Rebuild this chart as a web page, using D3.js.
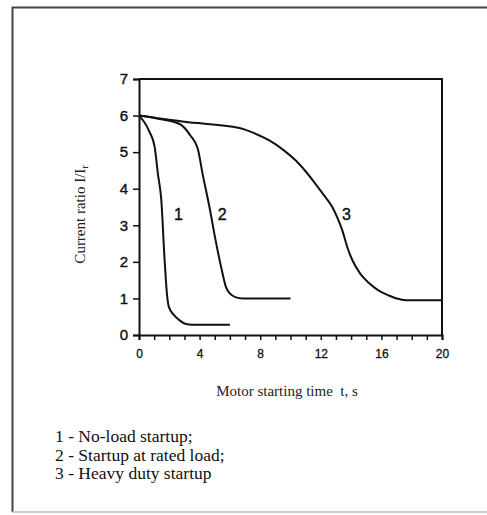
<!DOCTYPE html>
<html><head><meta charset="utf-8">
<script src="https://cdn.jsdelivr.net/npm/d3@7"></script>
<style>body{margin:0;background:#fff}svg{display:block}</style>
</head><body>
<script>
// Data
const curve1 = [[0,6],[0.3,5.85],[0.7,5.55],[1.03,5.15],[1.25,4.4],[1.47,3.7],[1.69,2.05],[1.85,1.1],[1.97,0.77],[2.3,0.55],[2.68,0.4],[3.1,0.3],[3.5,0.28],[6,0.28]];
const curve2 = [[0,6],[1.2,5.92],[2.68,5.77],[3.4,5.45],[3.88,5.09],[4.2,4.4],[4.65,3.5],[5.05,2.6],[5.42,1.86],[5.75,1.3],[5.96,1.15],[6.4,1.03],[6.84,1.0],[8,1.0],[10,1.0]];
const curve3 = [[0,6],[3,5.83],[6.62,5.66],[7.6,5.52],[8.6,5.32],[9.5,5.07],[10.35,4.77],[11.05,4.45],[11.67,4.12],[12.25,3.8],[12.76,3.5],[13.1,3.2],[13.42,2.86],[13.75,2.4],[14.08,2.05],[14.6,1.68],[15.18,1.42],[15.8,1.22],[16.49,1.08],[17.0,1.0],[17.59,0.95],[19.95,0.95]];
const curves = [curve1, curve2, curve3];
const curveLabels = ["1","2","3"];
const curveLabelPos = [[2.6,3.3],[5.5,3.3],[13.7,3.3]];
const xTicks = [0,4,8,12,16,20];
const xMinorTicks = d3.range(0,21,1);
const yTicks = [0,1,2,3,4,5,6,7];
const legendLines = ["1 - No-load startup;","2 - Startup at rated load;","3 - Heavy duty startup"];

const W=487,H=515;
const svg=d3.select("body").append("svg").attr("width",W).attr("height",H);
const sans="Liberation Sans, Arial, sans-serif", serif="Liberation Serif, Times New Roman, serif";
// outer frame
svg.append("path").attr("d","M500,7.5 H12.5 V512").attr("fill","none").attr("stroke","#444").attr("stroke-width",2);
svg.append("line").attr("x1",12).attr("x2",487).attr("y1",512).attr("y2",512).attr("stroke","#bbb").attr("stroke-width",1.5);

const x=d3.scaleLinear().domain([0,20]).range([139,442]);
const y=d3.scaleLinear().domain([0,7]).range([335,79]);

// plot frame (top and right)
svg.append("path").attr("d",`M${x(0)},${y(7)} H${x(20)} V${y(0)}`).attr("fill","none").attr("stroke","#111").attr("stroke-width",2);

// x axis
const xa=svg.append("g").attr("transform",`translate(0,${y(0)})`);
xa.call(d3.axisBottom(x).tickValues(xMinorTicks).tickSize(5).tickFormat(""));
xa.select(".domain").attr("stroke-width",2).attr("stroke","#111");
xa.selectAll(".tick line").attr("stroke-width",1.5).attr("stroke","#111");
const xl=svg.append("g").attr("transform",`translate(0,${y(0)})`);
xl.call(d3.axisBottom(x).tickValues(xTicks).tickSize(0).tickPadding(14).tickFormat(d3.format("d")));
xl.select(".domain").remove();
xl.selectAll("text").attr("font-family",sans).attr("font-size",12).attr("fill","#111").attr("stroke","#111").attr("stroke-width",0.3);

// y axis
const ya=svg.append("g").attr("transform",`translate(${x(0)},0)`);
ya.call(d3.axisLeft(y).tickValues(yTicks).tickSize(6).tickPadding(5).tickFormat(d3.format("d")));
ya.select(".domain").attr("stroke-width",2).attr("stroke","#111");
ya.selectAll(".tick line").attr("stroke-width",1.5).attr("stroke","#111");
ya.selectAll("text").attr("font-family",sans).attr("font-size",15).attr("fill","#111").attr("stroke","#111").attr("stroke-width",0.4);

// curves
const line=d3.line().x(d=>x(d[0])).y(d=>y(d[1])).curve(d3.curveMonotoneX);
curves.forEach(c=>{
  svg.append("path").attr("d",line(c)).attr("fill","none").attr("stroke","#111").attr("stroke-width",2);
});
curveLabels.forEach((t,i)=>{
  svg.append("text").attr("x",x(curveLabelPos[i][0])).attr("y",y(curveLabelPos[i][1])).attr("text-anchor","middle")
    .attr("dominant-baseline","central").attr("font-family",sans).attr("font-size",16).attr("fill","#111")
    .attr("stroke","#111").attr("stroke-width",0.4).text(t);
});

// axis titles
const yt=svg.append("text").attr("transform",`translate(85,${y(3.3)}) rotate(-90)`).attr("text-anchor","middle")
  .attr("font-family",serif).attr("font-size",15).attr("fill","#222");
yt.append("tspan").text("Current ratio I/I");
yt.append("tspan").attr("font-size",11).attr("dy",3).text("r");
svg.append("text").attr("x",287).attr("y",396).attr("text-anchor","middle")
  .attr("font-family",serif).attr("font-size",15).attr("fill","#222")
  .style("white-space","pre").text("Motor starting time  t, s");

// legend
legendLines.forEach((t,i)=>{
  svg.append("text").attr("x",55).attr("y",442+i*18.5).attr("font-family",serif)
    .attr("font-size",17.5).attr("fill","#111").text(t);
});
</script>
</body></html>
